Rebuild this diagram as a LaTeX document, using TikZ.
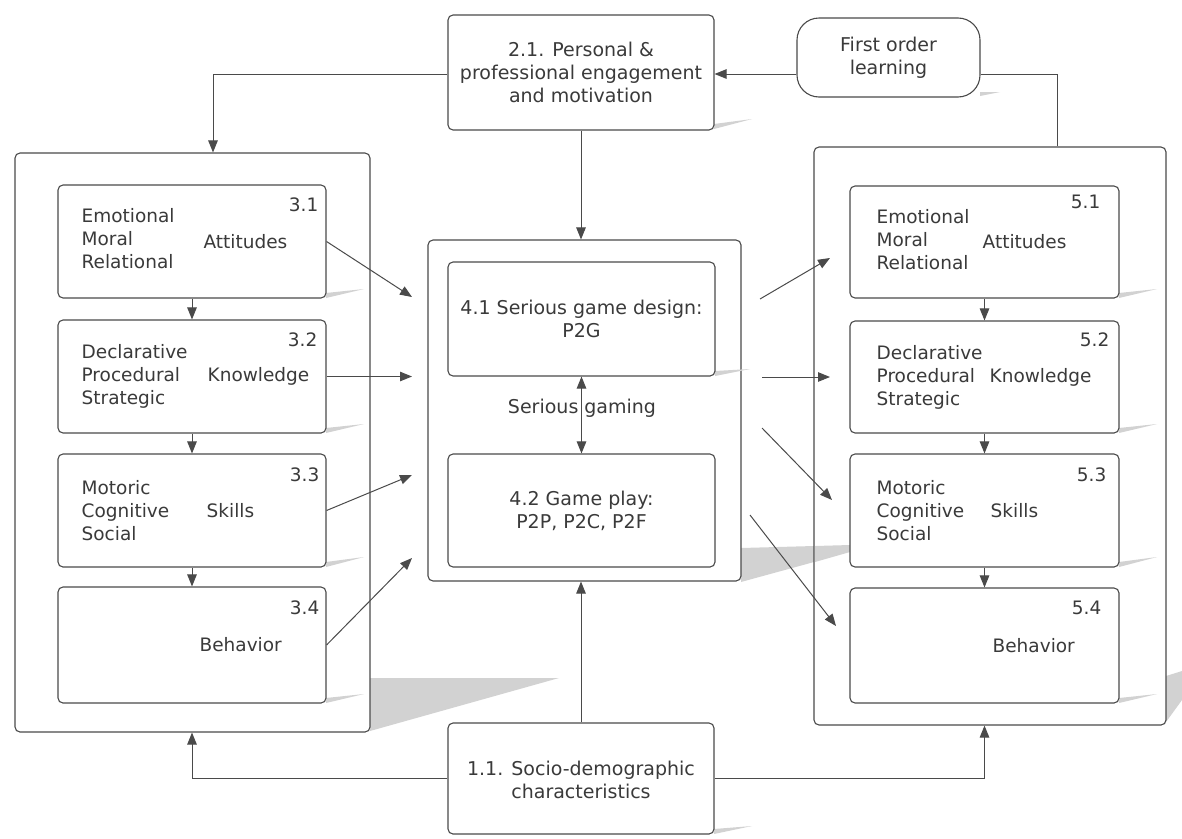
\documentclass[tikz,border=0pt]{standalone}
\usepackage{fontspec}
\setmainfont{DejaVu Sans}
\usetikzlibrary{arrows.meta,calc}
\definecolor{ink}{HTML}{3A3A3A}
\definecolor{edge}{HTML}{4A4A4A}
\definecolor{shade}{HTML}{D2D2D2}

\begin{document}
\begin{tikzpicture}[x=1pt,y=-1pt,
  font=\fontsize{18.5}{23}\selectfont, text=ink,
  frame/.style={draw=edge, line width=1.1pt, rounded corners=5pt, fill=white, inner sep=0pt},
  tag/.style={inner sep=0pt, anchor=west, align=left},
  num/.style={inner sep=0pt, anchor=east},
  mid/.style={inner sep=0pt, align=center, font=\fontsize{19}{23}\selectfont},
  arr/.style={draw=edge, line width=1pt, -{Triangle[length=12pt,width=9.5pt]}},
  both/.style={draw=edge, line width=1pt, {Triangle[length=12pt,width=9.5pt]}-{Triangle[length=12pt,width=9.5pt]}},
  link/.style={draw=edge, line width=1pt},
  shadow/.style={fill=shade, draw=none}]

\useasboundingbox (0,0) rectangle (1182,838);

% drop shadows lying outside the group frames
\fill[shadow] (370,678) -- (559,678) -- (370,731) -- cycle;
\fill[shadow] (741,548) -- (814,546) -- (814,562) -- (741,582) -- cycle;
\fill[shadow] (1166,676) -- (1182,671) -- (1182,700) -- (1166,722) -- cycle;
\fill[shadow] (714,129) -- (752,119) -- (714,124) -- cycle;
\fill[shadow] (714,834) -- (752,826) -- (714,829) -- cycle;
\fill[shadow] (980,96) -- (1000,92) -- (980,92) -- cycle;

% outer groups
\node[frame, minimum width=355pt, minimum height=579pt] (outL) at (192.5,442.5) {};
\node[frame, minimum width=352pt, minimum height=578pt] (outR) at (990,436) {};
\node[frame, minimum width=313pt, minimum height=341pt] (outC) at (584.5,410.5) {};

% drop shadows inside the group frames
\fill[shadow] (815,546) -- (850,545) -- (850,552) -- (815,562) -- cycle;
\fill[shadow] (326,298) -- (364,289) -- (326,293) -- cycle;
\fill[shadow] (326,433) -- (364,424) -- (326,428) -- cycle;
\fill[shadow] (326,567) -- (364,557) -- (326,562) -- cycle;
\fill[shadow] (326,703) -- (364,694) -- (326,698) -- cycle;
\fill[shadow] (1119,298) -- (1157,289) -- (1119,293) -- cycle;
\fill[shadow] (1119,433) -- (1157,424) -- (1119,428) -- cycle;
\fill[shadow] (1119,567) -- (1157,557) -- (1119,562) -- cycle;
\fill[shadow] (1119,703) -- (1157,694) -- (1119,698) -- cycle;
\fill[shadow] (715,376) -- (750,369) -- (715,371) -- cycle;

% top and bottom boxes
\node[frame, minimum width=266pt, minimum height=115pt] (p21) at (581,72.5) {};
\node[mid] (t21) at (p21) {2.1. Personal \&\\professional engagement\\and motivation};
\node[frame, rounded corners=22pt, minimum width=183pt, minimum height=79pt] (pill) at (888.5,57.5) {};
\node[mid] (tpill) at (pill) {First order\\learning};
\node[frame, minimum width=266pt, minimum height=111pt] (p11) at (581,778.5) {};
\node[mid] (t11) at ($(p11)+(0,1)$) {1.1. Socio-demographic\\characteristics};

% centre: serious gaming
\node[frame, minimum width=267pt, minimum height=114pt] (g41) at (581.5,319) {};
\node[mid] (t41) at (g41) {4.1 Serious game design:\\P2G};
\node[frame, minimum width=267pt, minimum height=113pt] (g42) at (581.5,510.5) {};
\node[mid] (t42) at (g42) {4.2 Game play:\\P2P, P2C, P2F};

% left column
\node[frame, minimum width=268pt, minimum height=113pt] (b31) at (192,241.5) {};
\node[frame, minimum width=268pt, minimum height=113pt] (b32) at (192,376.5) {};
\node[frame, minimum width=268pt, minimum height=113pt] (b33) at (192,510.5) {};
\node[frame, minimum width=268pt, minimum height=116pt] (b34) at (192,645) {};

% right column
\node[frame, minimum width=269pt, minimum height=112pt] (b51) at (984.5,242) {};
\node[frame, minimum width=269pt, minimum height=112pt] (b52) at (984.5,377) {};
\node[frame, minimum width=269pt, minimum height=113pt] (b53) at (984.5,510.5) {};
\node[frame, minimum width=269pt, minimum height=115pt] (b54) at (984.5,645.5) {};

% left column texts
\node[tag] (l31) at ($(b31.west)+(24,-2.5)$) {Emotional\\Moral\\Relational};
\node[tag] (a31) at ($(b31.west)+(146,0)$) {Attitudes};
\node[num] (n31) at ($(b31.north east)+(-8,20)$) {3.1};
\node[tag] (l32) at ($(b32.west)+(24,0)$) {Declarative\\Procedural\\Strategic};
\node[tag] (a32) at ($(b32.west)+(150,0)$) {Knowledge};
\node[num] (n32) at ($(b32.north east)+(-9,20)$) {3.2};
\node[tag] (l33) at ($(b33.west)+(24,0)$) {Motoric\\Cognitive\\Social};
\node[tag] (a33) at ($(b33.west)+(149,0)$) {Skills};
\node[num] (n33) at ($(b33.north east)+(-7,21)$) {3.3};
\node[tag] (a34) at ($(b34.west)+(142,0)$) {Behavior};
\node[num] (n34) at ($(b34.north east)+(-7,21)$) {3.4};

% right column texts
\node[tag] (l51) at ($(b51.west)+(27,-2.5)$) {Emotional\\Moral\\Relational};
\node[tag] (a51) at ($(b51.west)+(133,0)$) {Attitudes};
\node[num] (n51) at ($(b51.north east)+(-19,16)$) {5.1};
\node[tag] (l52) at ($(b52.west)+(27,0)$) {Declarative\\Procedural\\Strategic};
\node[tag] (a52) at ($(b52.west)+(140,0)$) {Knowledge};
\node[num] (n52) at ($(b52.north east)+(-10,19)$) {5.2};
\node[tag] (l53) at ($(b53.west)+(27,0)$) {Motoric\\Cognitive\\Social};
\node[tag] (a53) at ($(b53.west)+(141,0)$) {Skills};
\node[num] (n53) at ($(b53.north east)+(-13,21)$) {5.3};
\node[tag] (a54) at ($(b54.west)+(143,0)$) {Behavior};
\node[num] (n54) at ($(b54.north east)+(-18,20)$) {5.4};

% helper coordinates
\coordinate (yl) at (0,74);
\coordinate (xl) at (213,0);
\coordinate (xr) at (1057,0);
\coordinate (in1) at (412,297);
\coordinate (in2) at (412,376.5);
\coordinate (in3) at (412,475);
\coordinate (in4) at (412,558);
\coordinate (o1s) at (760,299);
\coordinate (o1e) at (830,258);
\coordinate (o2s) at (762,377);
\coordinate (o2e) at (830,377);
\coordinate (o3s) at (762,428);
\coordinate (o3e) at (832,500);
\coordinate (o4s) at (750,515);
\coordinate (o4e) at (836,626);

% feedback loop and inputs
\draw[arr] (pill.west |- yl) -- (p21.east |- yl);
\draw[link] (outR.north -| xr) |- (pill.east |- yl);
\draw[arr] (p21.west |- yl) -| (outL.north -| xl);
\draw[arr] (p21.south) -- (p21.south |- outC.north);
\draw[arr] (p11.north) -- (p11.north |- outC.south);
\draw[arr] (p11.west) -| (outL.south -| b34.south);
\draw[arr] (p11.east) -| (outR.south -| b54.south);

% within the columns
\draw[arr] (b31) -- (b32);
\draw[arr] (b32) -- (b33);
\draw[arr] (b33) -- (b34);
\draw[arr] (b51) -- (b52);
\draw[arr] (b52) -- (b53);
\draw[arr] (b53) -- (b54);

% serious gaming loop between design and play
\draw[both] (g41) -- (g42);
\node[inner sep=0pt, font=\fontsize{19}{23}\selectfont] (sg) at (582,408) {Serious gaming};

% into serious gaming
\draw[arr] (b31.east) -- (in1);
\draw[arr] (b32.east) -- (in2);
\draw[arr] (b33.east) -- (in3);
\draw[arr] (b34.east) -- (in4);

% out of serious gaming
\draw[arr] (o1s) -- (o1e);
\draw[arr] (o2s) -- (o2e);
\draw[arr] (o3s) -- (o3e);
\draw[arr] (o4s) -- (o4e);
\end{tikzpicture}
\end{document}
